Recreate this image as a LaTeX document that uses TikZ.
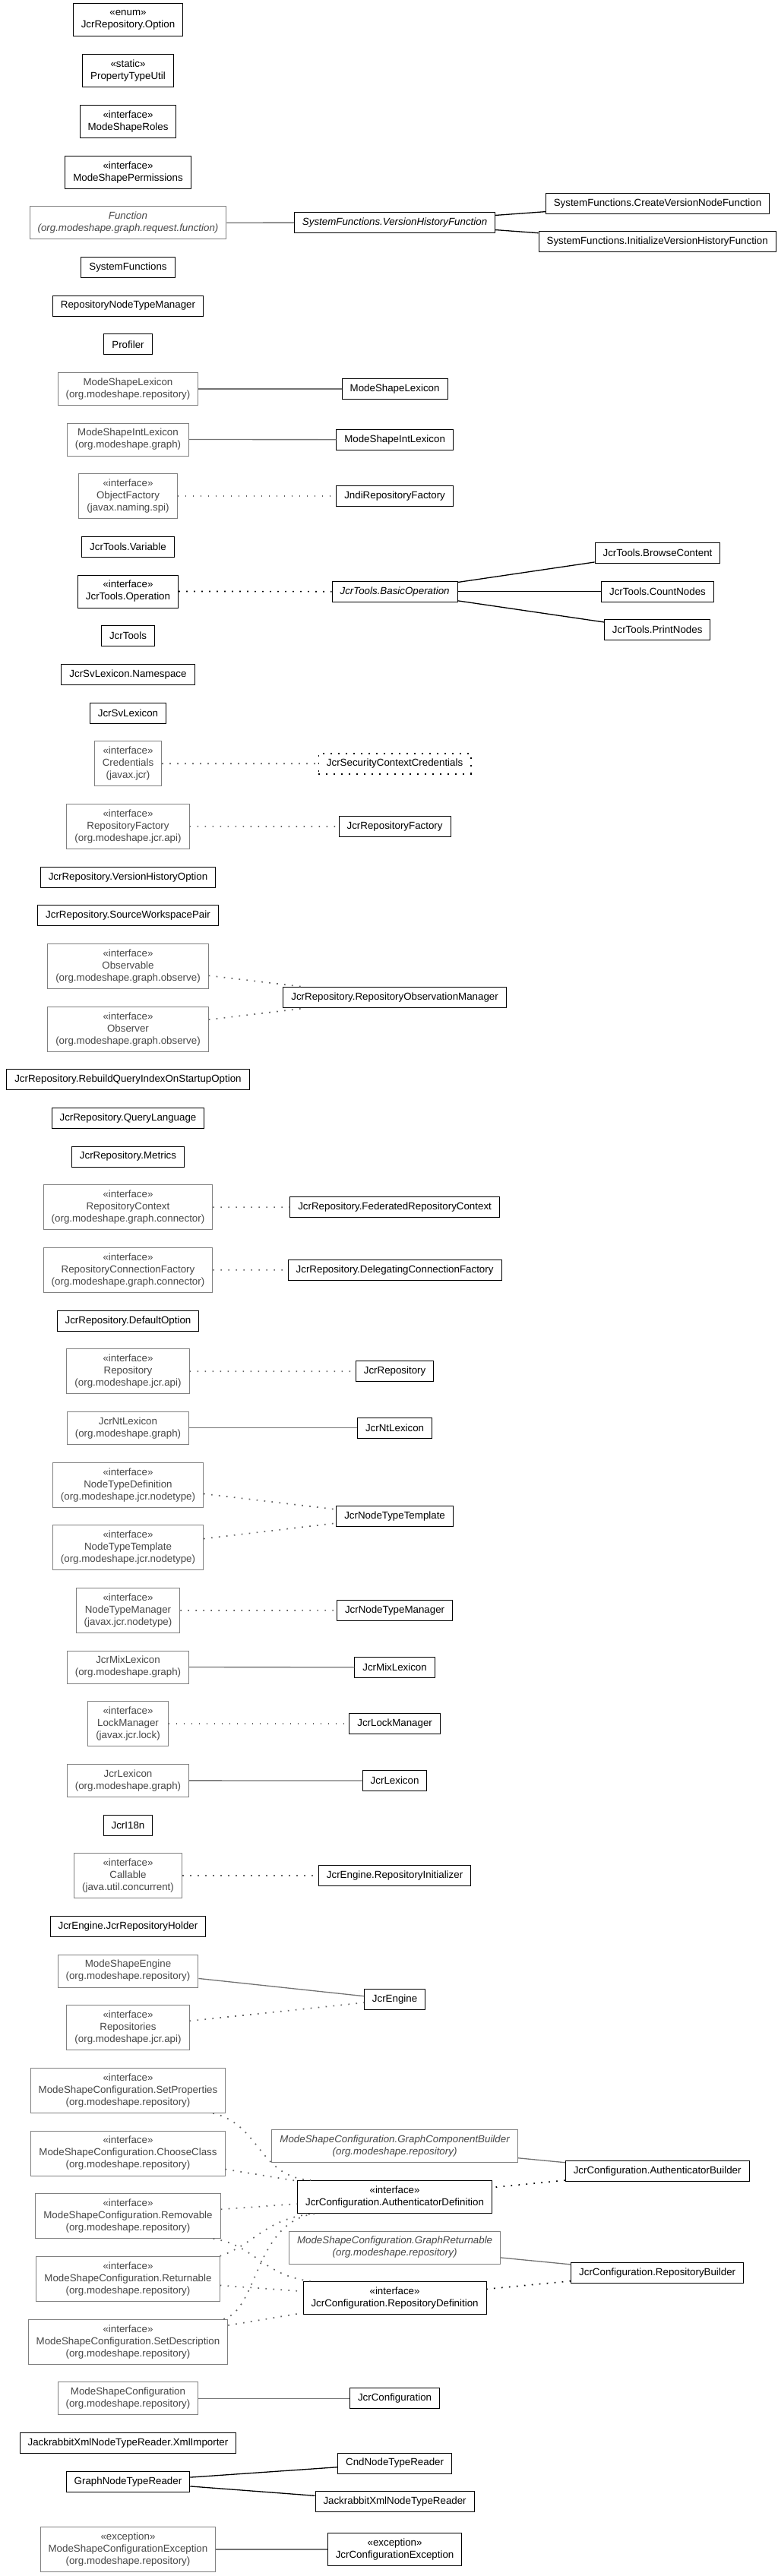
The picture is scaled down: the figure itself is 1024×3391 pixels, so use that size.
\documentclass[tikz,border=0pt]{standalone}
\usepackage{fontspec}
\setmainfont{Liberation Sans}
\begin{document}
\begin{tikzpicture}[x=1pt,y=-1pt,
    cls/.style={draw=black,line width=1pt,fill=white,inner xsep=10.5pt,inner ysep=0pt,
      minimum height=27pt,align=center,font=\fontsize{13.33}{16}\selectfont},
    ext/.style={cls,draw=black!50,line width=1pt,text=black!72},
    two/.style={minimum height=43pt},
    three/.style={minimum height=59pt},
    abst/.style={font=\fontsize{13.33}{16}\selectfont\itshape},
    gen/.style={line width=1.3pt},
    genx/.style={gen,draw=black!55},
    real/.style={line width=1.7pt,dash pattern=on 1.7pt off 8.3pt},
    realx/.style={real,draw=black!62}]

    % page frame
    \useasboundingbox (0,0) rectangle (1024,3391);

    % classes on their own
    \node[cls,two] (optn) at (168.5,26.5) {«enum»\\JcrRepository.Option};
    \node[cls,two] (ptu) at (168.5,93.2) {«static»\\PropertyTypeUtil};
    \node[cls,two] (roles) at (168.5,160) {«interface»\\ModeShapeRoles};
    \node[cls,two] (perms) at (168.5,226.7) {«interface»\\ModeShapePermissions};

    % system functions
    \node[ext,two,abst] (func) at (168.5,293.3) {Function\\(org.modeshape.graph.request.function)};
    \node[cls,abst] (vhf) at (519.6,293) {SystemFunctions.VersionHistoryFunction};
    \node[cls] (cvnf) at (865.5,268) {SystemFunctions.CreateVersionNodeFunction};
    \node[cls] (ivhf) at (865.2,318) {SystemFunctions.InitializeVersionHistoryFunction};
    \draw[genx] (func) -- (vhf);
    \draw[gen] (vhf) -- (cvnf);
    \draw[gen] (vhf) -- (ivhf);

    \node[cls] (sysf) at (168.5,352.2) {SystemFunctions};
    \node[cls] (rntm) at (168.5,402.5) {RepositoryNodeTypeManager};
    \node[cls] (prof) at (168.5,453.3) {Profiler};

    % lexicons and factories
    \node[ext,two] (mslexx) at (168.5,512) {ModeShapeLexicon\\(org.modeshape.repository)};
    \node[cls] (mslex) at (519.6,512) {ModeShapeLexicon};
    \draw[genx] (mslexx) -- (mslex);
    \node[ext,two] (msilexx) at (168.5,578.5) {ModeShapeIntLexicon\\(org.modeshape.graph)};
    \node[cls] (msilex) at (519.6,578.7) {ModeShapeIntLexicon};
    \draw[genx] (msilexx) -- (msilex);
    \node[ext,three] (objf) at (168.5,653.2) {«interface»\\ObjectFactory\\(javax.naming.spi)};
    \node[cls] (jndi) at (519.6,653.2) {JndiRepositoryFactory};
    \draw[realx] (objf) -- (jndi);

    % jcr tools
    \node[cls] (var) at (168.5,719.8) {JcrTools.Variable};
    \node[cls,two] (oper) at (168.5,778.5) {«interface»\\JcrTools.Operation};
    \node[cls,abst] (basic) at (519.6,778.7) {JcrTools.BasicOperation};
    \node[cls] (browse) at (865.5,727.8) {JcrTools.BrowseContent};
    \node[cls] (count) at (865.5,778.7) {JcrTools.CountNodes};
    \node[cls] (print) at (865.2,829.2) {JcrTools.PrintNodes};
    \draw[real] (oper) -- (basic);
    \draw[gen] (basic) -- (browse);
    \draw[gen] (basic) -- (count);
    \draw[gen] (basic) -- (print);
    \node[cls] (tools) at (168.5,837) {JcrTools};

    \node[cls] (svns) at (168.5,887.8) {JcrSvLexicon.Namespace};
    \node[cls] (svlex) at (168.5,938.7) {JcrSvLexicon};
    \node[ext,three] (cred) at (168.5,1005.2) {«interface»\\Credentials\\(javax.jcr)};
    \node[cls,real,line width=1.5pt] (scc) at (519.6,1005.3) {JcrSecurityContextCredentials};
    \draw[realx] (cred) -- (scc);
    \node[ext,three] (rfx) at (168.5,1087.8) {«interface»\\RepositoryFactory\\(org.modeshape.jcr.api)};
    \node[cls] (rf) at (519.6,1088) {JcrRepositoryFactory};
    \draw[realx] (rfx) -- (rf);

    % repository
    \node[cls] (vho) at (168.5,1154.7) {JcrRepository.VersionHistoryOption};
    \node[cls] (swp) at (168.5,1205.2) {JcrRepository.SourceWorkspacePair};
    \node[ext,three] (obsable) at (168.5,1271.8) {«interface»\\Observable\\(org.modeshape.graph.observe)};
    \node[cls] (rom) at (519.6,1313.2) {JcrRepository.RepositoryObservationManager};
    \node[ext,three] (obser) at (168.5,1354.7) {«interface»\\Observer\\(org.modeshape.graph.observe)};
    \draw[realx] (obsable) -- (rom);
    \draw[realx] (obser) -- (rom);
    \node[cls] (rqi) at (168.5,1421.3) {JcrRepository.RebuildQueryIndexOnStartupOption};
    \node[cls] (ql) at (168.5,1472) {JcrRepository.QueryLanguage};
    \node[cls] (met) at (168.5,1522.5) {JcrRepository.Metrics};
    \node[ext,three] (rcx) at (168.5,1589.2) {«interface»\\RepositoryContext\\(org.modeshape.graph.connector)};
    \node[cls] (frc) at (519.6,1589) {JcrRepository.FederatedRepositoryContext};
    \draw[realx] (rcx) -- (frc);
    \node[ext,three] (rcfx) at (168.5,1671.8) {«interface»\\RepositoryConnectionFactory\\(org.modeshape.graph.connector)};
    \node[cls] (dcf) at (519.6,1671.7) {JcrRepository.DelegatingConnectionFactory};
    \draw[realx] (rcfx) -- (dcf);
    \node[cls] (dopt) at (168.5,1738.7) {JcrRepository.DefaultOption};
    \node[ext,three] (repx) at (168.5,1805.3) {«interface»\\Repository\\(org.modeshape.jcr.api)};
    \node[cls] (rep) at (519.6,1805.2) {JcrRepository};
    \draw[realx] (repx) -- (rep);

    % node types
    \node[ext,two] (ntlexx) at (168.5,1879.8) {JcrNtLexicon\\(org.modeshape.graph)};
    \node[cls] (ntlex) at (519.6,1879.8) {JcrNtLexicon};
    \draw[genx] (ntlexx) -- (ntlex);
    \node[ext,three] (ntdx) at (168.5,1954.7) {«interface»\\NodeTypeDefinition\\(org.modeshape.jcr.nodetype)};
    \node[cls] (ntt) at (519.6,1996) {JcrNodeTypeTemplate};
    \node[ext,three] (nttx) at (168.5,2037.2) {«interface»\\NodeTypeTemplate\\(org.modeshape.jcr.nodetype)};
    \draw[realx] (ntdx) -- (ntt);
    \draw[realx] (nttx) -- (ntt);
    \node[ext,three] (ntmx) at (168.5,2120) {«interface»\\NodeTypeManager\\(javax.jcr.nodetype)};
    \node[cls] (ntm) at (519.6,2119.8) {JcrNodeTypeManager};
    \draw[realx] (ntmx) -- (ntm);
    \node[ext,two] (mixx) at (168.5,2194.5) {JcrMixLexicon\\(org.modeshape.graph)};
    \node[cls] (mix) at (519.6,2194.7) {JcrMixLexicon};
    \draw[genx] (mixx) -- (mix);
    \node[ext,three] (lockx) at (168.5,2269.2) {«interface»\\LockManager\\(javax.jcr.lock)};
    \node[cls] (lock) at (519.6,2269.2) {JcrLockManager};
    \draw[realx] (lockx) -- (lock);
    \node[ext,two] (lexx) at (168.5,2343.8) {JcrLexicon\\(org.modeshape.graph)};
    \node[cls] (lex) at (519.6,2344) {JcrLexicon};
    \draw[genx] (lexx) -- (lex);
    \node[cls] (i18n) at (168.5,2402.5) {JcrI18n};

    % engine
    \node[ext,three] (callx) at (168.5,2469.3) {«interface»\\Callable\\(java.util.concurrent)};
    \node[cls] (init) at (519.6,2469.3) {JcrEngine.RepositoryInitializer};
    \draw[realx] (callx) -- (init);
    \node[cls] (holder) at (168.5,2536) {JcrEngine.JcrRepositoryHolder};
    \node[ext,two] (engx) at (168.5,2594.5) {ModeShapeEngine\\(org.modeshape.repository)};
    \node[cls] (eng) at (519.6,2632) {JcrEngine};
    \node[ext,three] (reposx) at (168.5,2668.8) {«interface»\\Repositories\\(org.modeshape.jcr.api)};
    \draw[genx] (engx) -- (eng);
    \draw[realx] (reposx) -- (eng);

    % configuration
    \node[ext,three] (setprop) at (168.5,2751.8) {«interface»\\ModeShapeConfiguration.SetProperties\\(org.modeshape.repository)};
    \node[ext,three] (choose) at (168.5,2834.5) {«interface»\\ModeShapeConfiguration.ChooseClass\\(org.modeshape.repository)};
    \node[ext,three] (remov) at (168.5,2917) {«interface»\\ModeShapeConfiguration.Removable\\(org.modeshape.repository)};
    \node[ext,three] (retur) at (168.5,2999.8) {«interface»\\ModeShapeConfiguration.Returnable\\(org.modeshape.repository)};
    \node[ext,three] (setdesc) at (168.5,3082.7) {«interface»\\ModeShapeConfiguration.SetDescription\\(org.modeshape.repository)};
    \node[ext,two,abst] (gcb) at (519.6,2825.2) {ModeShapeConfiguration.GraphComponentBuilder\\(org.modeshape.repository)};
    \node[cls] (authb) at (865.2,2858.3) {JcrConfiguration.AuthenticatorBuilder};
    \node[cls,two] (authd) at (519.6,2892) {«interface»\\JcrConfiguration.AuthenticatorDefinition};
    \node[ext,two,abst] (gret) at (519.6,2958.5) {ModeShapeConfiguration.GraphReturnable\\(org.modeshape.repository)};
    \node[cls] (repob) at (865.2,2991.8) {JcrConfiguration.RepositoryBuilder};
    \node[cls,two] (repod) at (519.6,3024.8) {«interface»\\JcrConfiguration.RepositoryDefinition};

    \draw[genx] (gcb) -- (authb);
    \draw[real] (authb) -- (authd);
    \draw[genx] (gret) -- (repob);
    \draw[real] (repob) -- (repod);

    \draw[realx] ([xshift=-17pt]setprop.south east) .. controls (343,2796.5) and (340,2865.7) .. ([xshift=18pt]authd.north west);
    \draw[realx] (choose) -- (authd);
    \draw[realx] (remov) -- (authd);
    \draw[realx] (retur.north east) .. controls (336,2954) and (348,2921) .. ([xshift=21pt]authd.south west);
    \draw[realx] ([xshift=-6pt]setdesc.north east) .. controls (340,3040) and (335,2925) .. ([xshift=23pt]authd.south west);
    \draw[realx] ([xshift=-10pt]remov.south east) .. controls (335,2955) and (345,2995) .. ([xshift=10pt]repod.north west);
    \draw[realx] (retur) -- (repod);
    \draw[realx] (setdesc) -- (repod);

    \node[ext,two] (cfgx) at (168.5,3157.2) {ModeShapeConfiguration\\(org.modeshape.repository)};
    \node[cls] (cfg) at (519.6,3157.2) {JcrConfiguration};
    \draw[genx] (cfgx) -- (cfg);

    % node type readers
    \node[cls] (xmlimp) at (168.5,3215.8) {JackrabbitXmlNodeTypeReader.XmlImporter};
    \node[cls] (gntr) at (168.5,3266.7) {GraphNodeTypeReader};
    \node[cls] (cnd) at (519.6,3242.5) {CndNodeTypeReader};
    \node[cls] (jxml) at (519.6,3293.2) {JackrabbitXmlNodeTypeReader};
    \draw[gen] (gntr) -- (cnd);
    \draw[gen] (gntr) -- (jxml);

    % exceptions
    \node[ext,three] (cfgexx) at (168.5,3356) {«exception»\\ModeShapeConfigurationException\\(org.modeshape.repository)};
    \node[cls,two] (cfgex) at (519.6,3356) {«exception»\\JcrConfigurationException};
    \draw[genx] (cfgexx) -- (cfgex);

\end{tikzpicture}
\end{document}
